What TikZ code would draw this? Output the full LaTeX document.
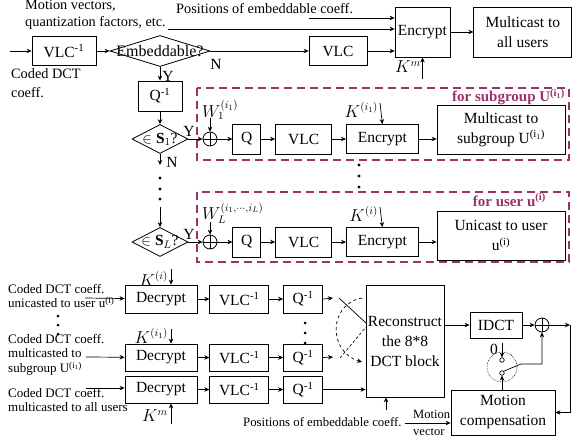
\documentclass[tikz,border=0pt]{standalone}
\usepackage{fontspec}
\setmainfont{Liberation Serif}
\usepackage{tikz}
\usetikzlibrary{shapes.geometric,arrows.meta,positioning}

\definecolor{grpframe}{RGB}{155,50,105}
\newcommand{\boxfont}{\fontsize{15.5}{20}\selectfont}
\newcommand{\lblfont}{\fontsize{14.3}{16.5}\selectfont}
\newcommand{\inlblfont}{\fontsize{13}{14.5}\selectfont}
\newcommand{\keyfont}{\fontsize{16}{18}\selectfont}
\newcommand{\grpfont}{\fontsize{15}{17}\selectfont\bfseries}

\begin{document}
\begin{tikzpicture}[
    x=1pt, y=-1pt,
    box/.style={rectangle, draw, line width=0.8pt, inner sep=1pt, align=center, font=\boxfont},
    decision/.style={diamond, draw, line width=0.8pt, inner sep=0pt, font=\boxfont},
    adder/.style={circle, draw, line width=0.8pt, minimum size=14pt, inner sep=0pt,
                  path picture={\draw[line width=0.8pt]
                      (path picture bounding box.north) -- (path picture bounding box.south)
                      (path picture bounding box.west) -- (path picture bounding box.east);}},
    contact/.style={circle, draw, line width=0.7pt, minimum size=4.5pt, inner sep=0pt},
    arrow/.style={-{Stealth[length=5pt, width=4.5pt]}, line width=0.7pt},
    lbl/.style={font=\lblfont, inner sep=0pt},
    keylbl/.style={font=\keyfont, inner sep=0pt},
    grp/.style={draw=grpframe, line width=2.2pt, dash pattern=on 8pt off 5pt},
    grplbl/.style={text=grpframe, font=\grpfont, inner sep=0pt},
]
    \useasboundingbox (0,0) rectangle (572,441);

    % encoder: top row
    \node[lbl, align=left, anchor=north west] (mvtxt) at (25,0) {Motion vectors,\\quantization factors, etc.};
    \node[lbl, anchor=base west] (postxt) at (176,14) {Positions of embeddable coeff.};
    \node[lbl, align=left, anchor=north west] (codtxt) at (11,68) {Coded DCT\\[3pt]coeff.};
    \coordinate (mvend) at (168,29);
    \coordinate (posend) at (309,18);
    \coordinate (in) at (10,51);

    \node[box, minimum width=64pt, minimum height=29pt] (vlcinv) at (64,51) {VLC\textsuperscript{-1}};
    \node[decision, minimum width=100pt, minimum height=31pt, font=\fontsize{16}{18}\selectfont] (embed) at (160,51) {\makebox[0pt]{Embeddable?}};
    \node[box, minimum width=58pt, minimum height=29pt] (vlc) at (338,51) {VLC};
    \node[box, minimum width=55pt, minimum height=50pt] (enc) at (422.5,32) {Encrypt};
    \node[box, minimum width=98pt, minimum height=50pt, right=23pt of enc] (mall) {Multicast to\\all users};
    \node[lbl, font=\boxfont] (nlbl) at (216,64) {N};
    \node[lbl, font=\boxfont] (ylbl) at (168,76) {Y};
    \node[keylbl, anchor=east] (kmlbl) at (421,67) {$K^m$};
    \coordinate (kmbot) at (422.5,79);

    \draw[arrow] (in) -- (vlcinv);
    \draw[arrow] (vlcinv) -- (embed);
    \draw[arrow] (embed) -- (vlc);
    \draw[arrow] (vlc.east) -- (vlc.east -| enc.west);
    \draw[arrow] (mvend) -- (mvend -| enc.west);
    \draw[arrow] (posend) -- (posend -| enc.west);
    \draw[arrow] (enc) -- (mall);
    \draw[arrow] (kmbot) -- (enc.south);

    % subgroup branch
    \node[box, minimum width=44pt, minimum height=30pt] (qinv) at (160,96) {Q\textsuperscript{-1}};
    \node[decision, minimum width=56pt, minimum height=29pt] (sone) at (160,139) {\makebox[0pt]{$\in\mathbf{S}_1$?}};
    \node[adder] (addone) at (210,139) {};
    \node[box, minimum width=28pt, minimum height=30pt, right=15pt of addone] (qone) {Q};
    \node[box, minimum width=56pt, minimum height=30pt, right=14pt of qone] (vlcone) {VLC};
    \node[box, minimum width=72pt, minimum height=29pt, right=14pt of vlcone] (encone) {Encrypt};
    \node[box, minimum width=128pt, minimum height=49pt] (mcone) at (501,129.5) {Multicast to\\subgroup U\textsuperscript{(i\textsubscript{1})}};
    \node[keylbl, anchor=west] (wonelbl) at (202,110) {$W_1^{(i_1)}$};
    \node[keylbl, anchor=east] (konelbl) at (378,110) {$K^{(i_1)}$};
    \node[lbl, font=\boxfont] (yonelbl) at (189,131) {Y};
    \node[lbl, font=\boxfont] (nonelbl) at (172,162) {N};
    \coordinate (wone) at (210,118);
    \coordinate (kone) at (380,103);
    \coordinate (none) at (160,165);

    \draw[arrow] (embed) -- (qinv);
    \draw[arrow] (qinv) -- (sone);
    \draw[arrow] (sone) -- (addone);
    \draw[arrow] (wone) -- (addone);
    \draw[arrow] (addone) -- (qone);
    \draw[arrow] (qone) -- (vlcone);
    \draw[arrow] (vlcone) -- (encone);
    \draw[arrow] (encone) -- (encone -| mcone.west);
    \draw[arrow] (kone) -- (encone.north);
    \draw[arrow] (sone) -- (none);
    \draw[grp] (197,88) rectangle (569,160);
    \node[grplbl, anchor=east] (grponelbl) at (565,97) {for subgroup U\textsuperscript{(i\textsubscript{1})}};

    \foreach \y in {178,189,199} \fill (160,\y) circle (1.6pt);
    \foreach \y in {165,176,187} \fill (359,\y) circle (1.6pt);

    % single user branch
    \coordinate (dtwo) at (160,207);
    \node[decision, minimum width=56pt, minimum height=29pt] (stwo) at (160,242) {\makebox[0pt]{$\in\mathbf{S}_L$?}};
    \node[adder] (addtwo) at (210,242) {};
    \node[box, minimum width=28pt, minimum height=30pt, right=15pt of addtwo] (qtwo) {Q};
    \node[box, minimum width=56pt, minimum height=30pt, right=14pt of qtwo] (vlctwo) {VLC};
    \node[box, minimum width=72pt, minimum height=29pt, right=14pt of vlctwo] (enctwo) {Encrypt};
    \node[box, minimum width=128pt, minimum height=49pt] (uctwo) at (501,235.5) {Unicast to user\\u\textsuperscript{(i)}};
    \node[keylbl, anchor=west] (wtwolbl) at (202,213) {$W_L^{(i_1,\cdots,i_L)}$};
    \node[keylbl, anchor=east] (ktwolbl) at (378,214) {$K^{(i)}$};
    \node[lbl, font=\boxfont] (ytwolbl) at (189,234) {Y};
    \coordinate (wtwo) at (210,222);
    \coordinate (ktwo) at (380,207);

    \draw[arrow] (dtwo) -- (stwo);
    \draw[arrow] (stwo) -- (addtwo);
    \draw[arrow] (wtwo) -- (addtwo);
    \draw[arrow] (addtwo) -- (qtwo);
    \draw[arrow] (qtwo) -- (vlctwo);
    \draw[arrow] (vlctwo) -- (enctwo);
    \draw[arrow] (enctwo) -- (enctwo -| uctwo.west);
    \draw[arrow] (ktwo) -- (enctwo.north);
    \draw[grp] (197,192) rectangle (569,262);
    \node[grplbl, anchor=east] (grptwolbl) at (546,200) {for user u\textsuperscript{(i)}};

    % decoder
    \node[lbl, font=\inlblfont, align=left, anchor=north west] (cdone) at (8,284) {Coded DCT coeff.\\unicasted to user u\textsuperscript{(i)}};
    \node[lbl, font=\inlblfont, align=left, anchor=north west] (cdtwo) at (8,334) {Coded DCT coeff.\\multicasted to\\subgroup U\textsuperscript{(i\textsubscript{1})}};
    \node[lbl, font=\inlblfont, align=left, anchor=north west] (cdthree) at (8,388) {Coded DCT coeff.\\multicasted to all users};
    \foreach \y in {316,325,334} \fill (58,\y) circle (1.5pt);
    \foreach \y in {323,333,343} \fill (305,\y) circle (1.5pt);
    \coordinate (inone) at (85,298);
    \coordinate (intwo) at (86,357);
    \coordinate (inthree) at (86,388);

    \node[box, minimum width=72pt, minimum height=28pt] (decone) at (161,299) {Decrypt};
    \node[box, minimum width=59pt, minimum height=28pt, right=12pt of decone] (vlcdone) {VLC\textsuperscript{-1}};
    \node[box, minimum width=39pt, minimum height=28pt, right=14pt of vlcdone] (qdone) {Q\textsuperscript{-1}};
    \node[box, minimum width=72pt, minimum height=27pt] (dectwo) at (161,357.5) {Decrypt};
    \node[box, minimum width=59pt, minimum height=27pt, right=12pt of dectwo] (vlcdtwo) {VLC\textsuperscript{-1}};
    \node[box, minimum width=39pt, minimum height=27pt, right=14pt of vlcdtwo] (qdtwo) {Q\textsuperscript{-1}};
    \node[box, minimum width=72pt, minimum height=27pt] (decthree) at (161,389.5) {Decrypt};
    \node[box, minimum width=59pt, minimum height=27pt, right=12pt of decthree] (vlcdthree) {VLC\textsuperscript{-1}};
    \node[box, minimum width=39pt, minimum height=27pt, right=14pt of vlcdthree] (qdthree) {Q\textsuperscript{-1}};

    \node[keylbl, anchor=east] (kdonelbl) at (168,279) {$K^{(i)}$};
    \node[keylbl, anchor=east] (kdtwolbl) at (168,336) {$K^{(i_1)}$};
    \node[keylbl, anchor=east] (kdthreelbl) at (168,416) {$K^m$};
    \coordinate (kdone) at (171,269);
    \coordinate (kdtwo) at (171,329);
    \coordinate (kdthree) at (171,424);

    \draw[arrow] (inone) -- (decone);
    \draw[arrow] (intwo) -- (dectwo);
    \draw[arrow] (inthree) -- (inthree -| decthree.west);
    \draw[arrow] (kdone) -- (kdone |- decone.north);
    \draw[arrow] (kdtwo) -- (kdtwo |- dectwo.north);
    \draw[arrow] (kdthree) -- (kdthree |- decthree.south);
    \draw[arrow] (decone) -- (vlcdone);
    \draw[arrow] (vlcdone) -- (qdone);
    \draw[arrow] (dectwo) -- (vlcdtwo);
    \draw[arrow] (vlcdtwo) -- (qdtwo);
    \draw[arrow] (decthree) -- (vlcdthree);
    \draw[arrow] (vlcdthree) -- (qdthree);

    \node[box, minimum width=78pt, minimum height=112pt] (rec) at (405,341) {Reconstruct\\the 8*8\\DCT block};
    \coordinate (qoutone) at (333,298);
    \coordinate (qouttwo) at (333,357);
    \draw[arrow] (qdone.east) -- (qoutone);
    \draw[arrow] (qdtwo.east) -- (qouttwo);
    \draw[arrow] (qdthree.east) -- (qdthree.east -| rec.west);

    % selector in front of the block
    \coordinate (swa) at (339,298);
    \coordinate (swb) at (366,323);
    \coordinate (swc) at (340,358);
    \coordinate (swd) at (366,327);
    \coordinate (swe) at (362,298);
    \coordinate (swf) at (362,362);
    \draw[line width=0.7pt] (swa) -- (swb);
    \draw[line width=0.6pt, densely dashed] (swc) -- (swd);
    \draw[arrow, dashed] (swe) .. controls (328,304) and (328,352) .. (swf);

    \node[lbl, font=\fontsize{12.8}{14}\selectfont, anchor=west] (posbtxt) at (243,422) {Positions of embeddable coeff.};
    \coordinate (posin) at (386,410);
    \draw[arrow] (posin) -- (posin |- rec.south);

    \node[box, minimum width=52pt, minimum height=26pt] (idct) at (496,325) {IDCT};
    \node[adder] (addthree) at (542,325) {};
    \coordinate (outc) at (570,325);
    \node[box, minimum width=104pt, minimum height=45pt] (mc) at (503,412.5) {Motion\\compensation};
    \draw[arrow] (rec.east |- idct) -- (idct);
    \draw[arrow] (idct) -- (addthree);
    \draw[arrow] (addthree) -- (outc);
    \draw[arrow] (outc) |- (mc.east);

    \node[lbl, font=\fontsize{12.5}{17}\selectfont, align=left, anchor=west] (mvectxt) at (413,423) {Motion\\vector};
    \coordinate (mvin) at (405,423);
    \draw[arrow] (mvin) -- (mvin -| mc.west);

    % switch
    \node[circle, draw, densely dotted, line width=0.6pt, minimum size=30pt, inner sep=0pt] (sw) at (502,367) {};
    \node[contact] (ctop) at (502,360) {};
    \node[contact] (cbot) at (502,373) {};
    \node[lbl, font=\boxfont] (zerolbl) at (494,349) {0};
    \coordinate (zero) at (502,343);
    \coordinate (blade) at (521,364);
    \draw[arrow] (zero) -- (ctop.north);
    \draw[arrow] (cbot |- mc.north) -- (cbot.south);
    \draw[arrow] (cbot.north east) -- (blade) -| (addthree.south);
\end{tikzpicture}
\end{document}
